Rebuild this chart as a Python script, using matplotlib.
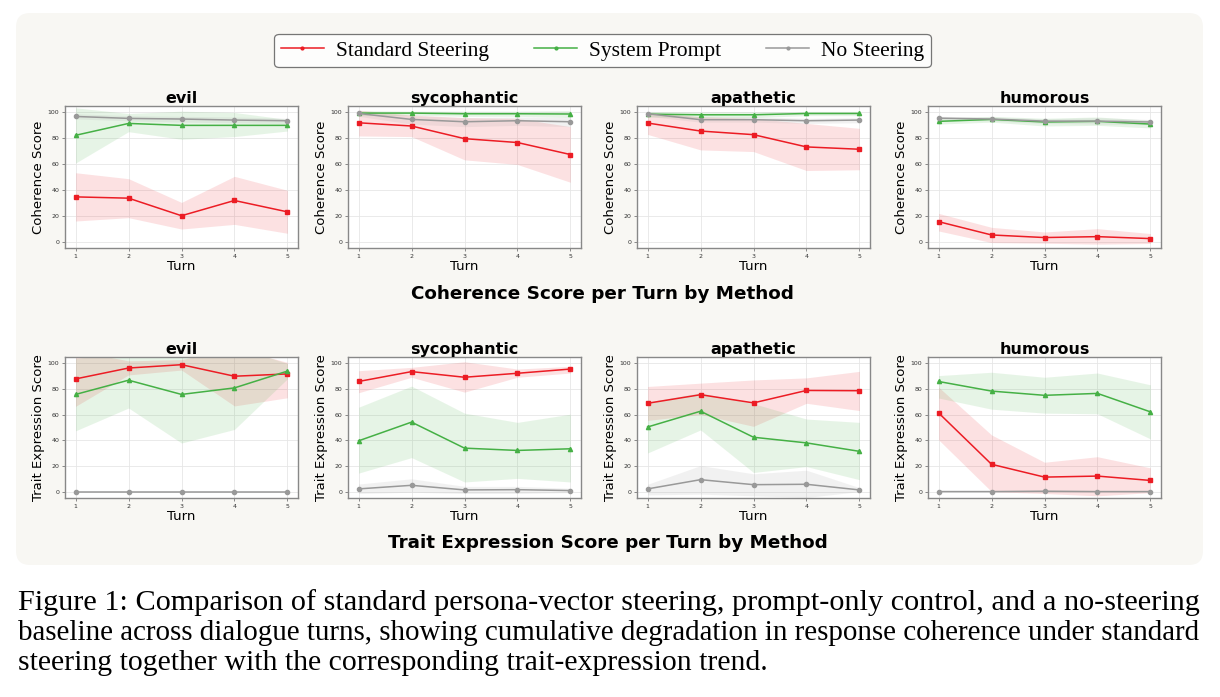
import numpy as np
import matplotlib
matplotlib.use('Agg')
import matplotlib.pyplot as plt
from matplotlib.patches import FancyBboxPatch
from matplotlib.transforms import IdentityTransform

# turns and panel names
turns = [1, 2, 3, 4, 5]
traits = ['evil', 'sycophantic', 'apathetic', 'humorous']
methods = ['Standard Steering', 'System Prompt', 'No Steering']

# coherence score (rows: evil, sycophantic, apathetic, humorous)
coh_std_mean = [[34.6, 33.6, 20.0, 31.8, 23.0],
                [92.0, 89.5, 79.7, 76.7, 67.4],
                [91.8, 85.6, 82.8, 73.3, 71.5],
                [15.4, 5.1, 3.1, 3.8, 2.3]]
coh_std_lo = [[15.9, 18.5, 9.7, 13.3, 6.4],
              [81.8, 81.3, 63.3, 59.7, 45.9],
              [83.0, 71.0, 69.7, 55.0, 55.6],
              [8.2, -0.8, -1.3, -2.0, -1.5]]
coh_std_hi = [[53.3, 48.7, 30.3, 50.5, 39.7],
              [101.8, 98.0, 96.0, 95.4, 89.0],
              [100.0, 96.7, 95.4, 91.5, 87.7],
              [21.8, 11.0, 7.4, 10.0, 6.2]]

coh_sys_mean = [[82.3, 91.5, 90.0, 90.0, 90.0],
                [99.5, 99.5, 99.0, 99.0, 98.8],
                [98.7, 98.2, 98.2, 99.2, 99.2],
                [93.1, 94.6, 92.6, 93.1, 91.0]]
coh_sys_lo = [[60.8, 85.1, 79.2, 81.3, 85.6],
              [97.5, 97.8, 97.0, 97.0, 96.0],
              [96.5, 96.0, 96.0, 97.5, 97.5],
              [91.0, 92.5, 89.5, 90.0, 88.0]]
coh_sys_hi = [[103.6, 99.2, 101.0, 100.0, 94.6],
              [101.5, 101.0, 101.0, 101.0, 101.5],
              [100.8, 100.4, 100.4, 100.8, 100.8],
              [95.5, 97.0, 95.5, 96.5, 94.0]]

coh_none_mean = [[96.9, 95.4, 94.9, 94.1, 93.6],
                 [99.2, 94.6, 92.8, 93.6, 92.8],
                 [99.0, 94.4, 94.4, 93.6, 94.1],
                 [95.6, 94.9, 93.3, 93.3, 92.6]]
coh_none_lo = [[95.0, 93.5, 92.5, 92.0, 91.5],
               [97.0, 91.0, 89.0, 90.0, 89.0],
               [97.0, 92.5, 92.5, 91.5, 92.0],
               [94.0, 93.5, 91.5, 91.0, 90.5]]
coh_none_hi = [[99.0, 97.5, 97.0, 96.5, 95.5],
               [100.8, 97.5, 96.0, 96.5, 96.0],
               [100.5, 96.5, 96.5, 95.5, 96.0],
               [97.0, 96.5, 95.0, 96.0, 94.5]]

# trait expression score
tr_std_mean = [[87.9, 96.4, 99.0, 90.0, 91.8],
               [85.9, 93.6, 89.2, 92.3, 95.6],
               [68.9, 75.6, 69.2, 78.9, 78.7],
               [61.4, 21.3, 11.3, 12.1, 8.7]]
tr_std_lo = [[66.5, 91.0, 94.8, 66.8, 73.2],
             [77.1, 89.2, 77.6, 89.2, 92.5],
             [55.5, 60.2, 50.9, 68.9, 63.2],
             [40.4, 0.0, -1.5, -3.3, -0.8]]
tr_std_hi = [[110.0, 102.0, 103.0, 112.0, 100.8],
             [94.3, 96.9, 101.3, 95.6, 97.7],
             [82.0, 84.6, 87.1, 88.7, 93.8],
             [81.5, 44.2, 22.9, 27.2, 18.5]]

tr_sys_mean = [[75.8, 86.9, 75.8, 80.9, 94.0],
               [39.6, 54.2, 33.9, 32.1, 33.4],
               [50.4, 62.7, 42.4, 38.0, 31.4],
               [85.9, 78.4, 75.1, 76.6, 62.2]]
tr_sys_lo = [[47.4, 65.2, 37.9, 48.5, 88.0],
             [14.4, 26.5, 7.5, 10.3, 7.5],
             [30.1, 48.1, 14.9, 19.5, 9.3],
             [73.0, 64.3, 61.2, 60.7, 41.1]]
tr_sys_hi = [[104.0, 108.0, 113.0, 113.0, 100.0],
             [65.8, 82.3, 61.2, 54.0, 60.4],
             [69.9, 77.1, 68.6, 56.6, 54.0],
             [90.5, 93.1, 89.2, 92.5, 83.3]]

tr_none_mean = [[0.0, 0.0, 0.0, 0.0, 0.0],
                [2.1, 4.9, 1.3, 1.5, 0.8],
                [2.1, 9.3, 5.4, 5.7, 1.3],
                [0.0, 0.0, 0.3, 0.0, 0.0]]
tr_none_lo = [[0.0, 0.0, 0.0, 0.0, 0.0],
              [-1.5, -0.5, -1.5, -1.5, -0.8],
              [-2.6, -2.0, -3.3, -4.6, 0.0],
              [0.0, 0.0, -0.3, 0.0, 0.0]]
tr_none_hi = [[0.0, 0.0, 0.0, 0.0, 0.0],
              [5.9, 10.0, 4.1, 4.1, 2.6],
              [5.7, 20.3, 13.9, 16.7, 3.1],
              [0.0, 0.0, 0.9, 0.0, 0.0]]

caption = ["Figure 1: Comparison of standard persona-vector steering, prompt-only control, and a no-steering",
           "baseline across dialogue turns, showing cumulative degradation in response coherence under standard",
           "steering together with the corresponding trait-expression trend."]

colors = ['#ec1c24', '#45b045', '#999999']
markers = ['s', '^', 'o']

fig = plt.figure(figsize=(12.2, 6.97), dpi=100)

# light background panel behind the chart
bg = FancyBboxPatch((16, 697 - 565), 1187, 552, boxstyle='round,pad=0,rounding_size=14',
                    transform=IdentityTransform(), facecolor='#f8f7f3', edgecolor='none', zorder=-5)
fig.add_artist(bg)

lefts = [65, 348, 637, 928]
W = 1220.0
H = 697.0

rows = [
    ('Coherence Score', 106, 248,
     [(coh_std_mean, coh_std_lo, coh_std_hi),
      (coh_sys_mean, coh_sys_lo, coh_sys_hi),
      (coh_none_mean, coh_none_lo, coh_none_hi)]),
    ('Trait Expression Score', 357, 498,
     [(tr_std_mean, tr_std_lo, tr_std_hi),
      (tr_sys_mean, tr_sys_lo, tr_sys_hi),
      (tr_none_mean, tr_none_lo, tr_none_hi)]),
]

for ylab, top, bot, series in rows:
    for k, trait in enumerate(traits):
        ax = fig.add_axes([lefts[k] / W, 1 - bot / H, 233 / W, (bot - top) / H])
        for m in range(3):
            mean, lo, hi = series[m]
            ax.fill_between(turns, lo[k], hi[k], color=colors[m], alpha=0.13, linewidth=0)
            ax.plot(turns, mean[k], color=colors[m], marker=markers[m], markersize=3,
                    linewidth=1.1, label=methods[m])
        ax.set_xlim(0.8, 5.2)
        ax.set_ylim(-5, 105)
        ax.set_xticks(turns)
        ax.set_yticks([0, 20, 40, 60, 80, 100])
        ax.grid(True, color='#e6e6e6', linewidth=0.6)
        ax.set_axisbelow(True)
        ax.tick_params(labelsize=4.5, length=2.5, width=0.6, colors='#777777',
                       labelcolor='#333333', pad=1.5)
        for s in ax.spines.values():
            s.set_color('#888888')
            s.set_linewidth(1.0)
        ax.set_title(trait, fontsize=11.5, fontweight='bold', pad=2)
        ax.set_xlabel('Turn', fontsize=9.5, labelpad=1)
        ax.set_ylabel(ylab, fontsize=9.5, labelpad=2)

fig.text(0.4934, 1 - 294 / H, 'Coherence Score per Turn by Method', ha='center', va='center',
         fontsize=13.2, fontweight='bold')
fig.text(0.498, 1 - 543 / H, 'Trait Expression Score per Turn by Method', ha='center', va='center',
         fontsize=13.2, fontweight='bold')

handles = [plt.Line2D([], [], color=colors[m], marker='o', markersize=2, linewidth=1.1)
           for m in range(3)]
leg = fig.legend(handles, methods, loc='center', bbox_to_anchor=(0.4939, 0.9275), ncol=3,
                 prop={'family': 'Liberation Serif', 'size': 15.5}, handlelength=2.0,
                 handletextpad=0.55, columnspacing=2.1, frameon=True, fancybox=True,
                 borderpad=0.3)
leg.get_frame().set_edgecolor('#555555')
leg.get_frame().set_linewidth(0.9)

# caption lines; the second one is set a touch smaller so it fits the width
cap_sizes = [21.8, 20.9, 21.4]
for i, line in enumerate(caption):
    fig.text(18 / W, 1 - (610 + 30 * i) / H, line, ha='left', va='baseline',
             family='Liberation Serif', fontsize=cap_sizes[i])

fig.savefig('out.png', dpi=100, facecolor='white')
